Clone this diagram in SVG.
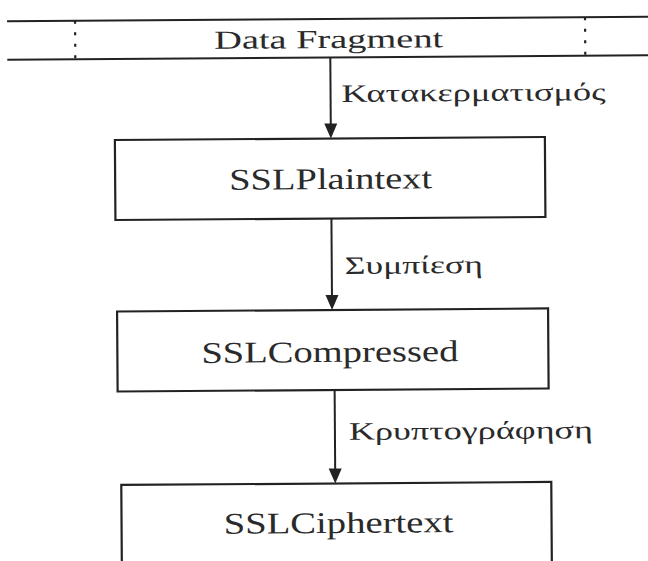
<svg xmlns="http://www.w3.org/2000/svg" width="648" height="561" viewBox="0 0 648 561">
  <style>
    .ln { stroke: #222; stroke-width: 2; fill: none; }
    .box { stroke: #222; stroke-width: 2.2; fill: #fff; }
    .dots { stroke: #222; stroke-width: 2.2; stroke-dasharray: 3 8.5; }
    .head { fill: #222; }
    .name { font-family: "Liberation Serif", "DejaVu Serif", serif; font-size: 30px; fill: #2a2a2a; }
    .band { font-family: "Liberation Serif", "DejaVu Serif", serif; font-size: 26px; fill: #2a2a2a; }
    .lbl { font-family: "Liberation Serif", "DejaVu Serif", serif; font-size: 25px; fill: #2a2a2a; }
  </style>
  <rect width="648" height="561" fill="#fff"/>
  <g transform="rotate(-0.4 330 300)">
    <!-- record band with the data fragment -->
    <g id="data-fragment">
      <line class="ln" x1="9" y1="19" x2="660" y2="19"/>
      <line class="ln" x1="9" y1="57.5" x2="660" y2="57.5"/>
      <line class="dots" x1="77" y1="19" x2="77" y2="57.5"/>
      <line class="dots" x1="587" y1="19" x2="587" y2="57.5"/>
      <text class="band" x="216" y="48" textLength="229" lengthAdjust="spacingAndGlyphs">Data Fragment</text>
    </g>

    <g id="ssl-plaintext">
      <rect class="box" x="116" y="138.5" width="430" height="80"/>
      <text class="name" x="230" y="189" textLength="203" lengthAdjust="spacingAndGlyphs">SSLPlaintext</text>
    </g>

    <g id="ssl-compressed">
      <rect class="box" x="117" y="310" width="431" height="80"/>
      <text class="name" x="201" y="362" textLength="257" lengthAdjust="spacingAndGlyphs">SSLCompressed</text>
    </g>

    <g id="ssl-ciphertext">
      <rect class="box" x="120" y="483.5" width="430" height="110"/>
      <text class="name" x="222" y="533" textLength="230" lengthAdjust="spacingAndGlyphs">SSLCiphertext</text>
    </g>

    <!-- processing steps -->
    <g id="connectors">
      <line class="ln" x1="332" y1="57.5" x2="332" y2="126"/>
      <path class="head" d="M325.5 123.5 L338.5 123.5 L332 138.5 Z"/>
      <text class="lbl" x="343" y="102" textLength="264" lengthAdjust="spacingAndGlyphs">Κατακερματισμός</text>

      <line class="ln" x1="332" y1="218.5" x2="332" y2="298"/>
      <path class="head" d="M325.5 295 L338.5 295 L332 310 Z"/>
      <text class="lbl" x="345" y="274" textLength="138" lengthAdjust="spacingAndGlyphs">Συμπίεση</text>

      <line class="ln" x1="334" y1="390" x2="334" y2="471"/>
      <path class="head" d="M327.5 468.5 L340.5 468.5 L334 483.5 Z"/>
      <text class="lbl" x="348" y="440" textLength="244" lengthAdjust="spacingAndGlyphs">Κρυπτογράφηση</text>
    </g>
  </g>
</svg>
